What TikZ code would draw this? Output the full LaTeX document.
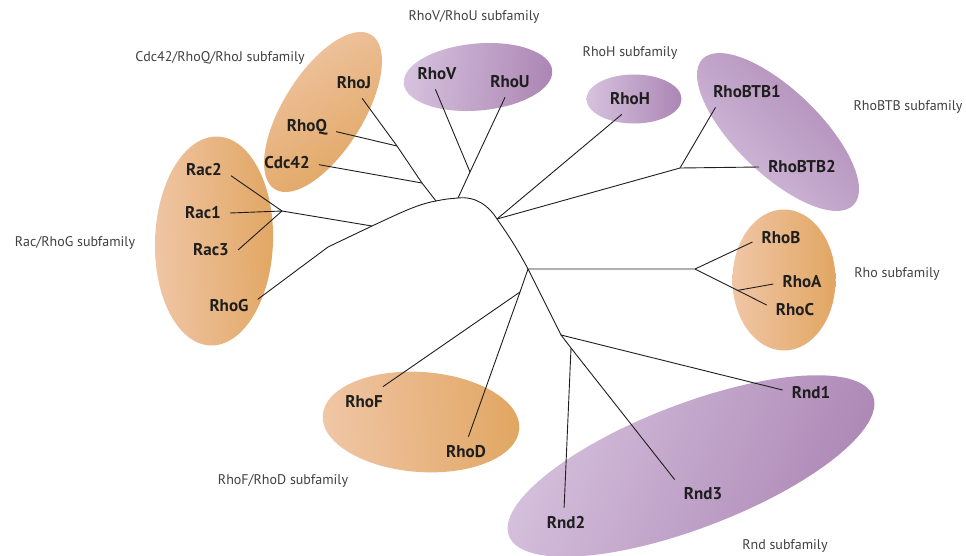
\documentclass[tikz,border=0pt]{standalone}
\usepackage{fontspec}
\setmainfont{PT Sans}
\usepackage{tikz}
\usetikzlibrary{shapes.geometric}
\usepackage{xcolor}

\definecolor{orL}{RGB}{240,198,166}
\definecolor{orR}{RGB}{225,166,98}
\definecolor{puL}{RGB}{214,194,222}
\definecolor{puR}{RGB}{172,134,180}
\definecolor{ink}{RGB}{30,30,30}

\begin{document}
\begin{tikzpicture}[x=1pt,y=-1pt,
    clade/.style n args={3}{ellipse,inner sep=0pt,minimum width=#1,minimum height=#2,rotate=#3},
    orangeclade/.style={top color=orL,bottom color=orR,shading angle={#1}},
    purpleclade/.style={top color=puL,bottom color=puR,shading angle={#1}},
    prot/.style={font=\fontsize{17}{20}\selectfont\bfseries,text=ink,inner sep=9pt},
    sub/.style={font=\fontsize{14}{16}\selectfont,text=ink!85},
    branch/.style={draw=ink,line width=0.9pt}]

\useasboundingbox (0,0) rectangle (966,555);

\node[clade={118}{209}{-2},orangeclade=92] (racE) at (214,241) {};
\node[clade={182}{80}{58},orangeclade=32] (cdcE) at (323,112) {};
\node[clade={149}{67}{5},purpleclade=85] (vuE) at (478,77) {};
\node[clade={95}{49}{0},purpleclade=90] (hE) at (634,99) {};
\node[clade={210}{84}{-44},purpleclade=134] (btbE) at (778,132) {};
\node[clade={103}{141}{0},orangeclade=90] (rhoE) at (784,280) {};
\node[clade={197}{100}{-4},orangeclade=94] (fdE) at (421,422) {};
\node[clade={390}{124}{21},purpleclade=69] (rndE) at (691,466) {};

\node[prot] (rac2) at (204,170) {Rac2};
\node[prot] (rac1) at (203,213) {Rac1};
\node[prot] (rac3) at (211,250) {Rac3};
\node[prot] (rhog) at (229,306) {RhoG};
\node[prot] (cdc42) at (287,163) {Cdc42};
\node[prot] (rhoq) at (307,127) {RhoQ};
\node[prot] (rhoj) at (354,83) {RhoJ};
\node[prot] (rhov) at (437,74) {RhoV};
\node[prot] (rhou) at (510,82) {RhoU};
\node[prot] (rhoh) at (630,99) {RhoH};
\node[prot] (btb1) at (747,92) {RhoBTB1};
\node[prot] (btb2) at (802,167) {RhoBTB2};
\node[prot] (rhob) at (781,238) {RhoB};
\node[prot] (rhoa) at (802,282) {RhoA};
\node[prot] (rhoc) at (795,310) {RhoC};
\node[prot] (rnd1) at (811,393) {Rnd1};
\node[prot] (rnd3) at (703,494) {Rnd3};
\node[prot] (rnd2) at (566,523) {Rnd2};
\node[prot] (rhof) at (364,402) {RhoF};
\node[prot] (rhod) at (466,452) {RhoD};

\node[sub] (racS) at (75,243) {Rac/RhoG subfamily};
\node[sub] (cdcS) at (220,58) {Cdc42/RhoQ/RhoJ subfamily};
\node[sub] (vuS) at (474,17) {RhoV/RhoU subfamily};
\node[sub] (hS) at (630,53) {RhoH subfamily};
\node[sub] (btbS) at (908,107) {RhoBTB subfamily};
\node[sub] (rhoS) at (897,274) {Rho subfamily};
\node[sub] (rndS) at (785,546) {Rnd subfamily};
\node[sub] (fdS) at (283,481) {RhoF/RhoD subfamily};

\coordinate (gbend) at (328,247);
\coordinate (racj) at (372,226);
\coordinate (racb) at (282,211);
\coordinate (cdcj) at (436,201);
\coordinate (cdcb) at (422,183);
\coordinate (qb) at (397,146);
\coordinate (vuj) at (458,198);
\coordinate (vb) at (470,172);
\coordinate (hj) at (497,219);
\coordinate (btbb) at (680,168);
\coordinate (rhoJn) at (528,269);
\coordinate (rhoBr) at (695,269);
\coordinate (acb) at (737,290.5);
\coordinate (fdj) at (520,292);
\coordinate (rndj) at (561,335);
\coordinate (rndb) at (571,348);

\draw[branch] (rhog.13) -- (gbend) -- (racj)
  .. controls (400,213) and (418,204) .. (cdcj)
  .. controls (446,199) .. (vuj)
  .. controls (476,196) and (489,206) .. (hj)
  .. controls (509,236) and (518,250) .. (rhoJn);

\draw[branch] (racj) -- (racb);
\draw[branch] (racb) -- (rac2.-12);
\draw[branch] (racb) -- (rac1.east);
\draw[branch] (racb) -- (rac3.east);

\draw[branch] (cdcj) -- (cdcb) -- (qb) -- (rhoj.-62);
\draw[branch] (cdcb) -- (cdc42.-3);
\draw[branch] (qb) -- (rhoq.-9);

\draw[branch] (vuj) -- (vb) -- (rhou.-108);
\draw[branch] (vb) -- (rhov.-96);

\draw[branch] (hj) -- (rhoh.-118);
\draw[branch] (hj) -- (btbb) -- (btb2.west);
\draw[branch] (btbb) -- (btb1.-154);

\draw[branch] (rhoJn) -- (rhoBr) -- (rhob.188);
\draw[branch] (rhoBr) -- (rhoc.170);
\draw[branch] (acb) -- (rhoa.184);

\draw[branch] (rhoJn) -- (fdj) -- (rhof.39);
\draw[branch] (fdj) -- (rhod.81);

\draw[branch] (rhoJn) -- (rndj) -- (rnd1.174);
\draw[branch] (rndj) -- (rndb) -- (rnd3.153);
\draw[branch] (rndb) -- (rnd2.97);

\end{tikzpicture}
\end{document}
